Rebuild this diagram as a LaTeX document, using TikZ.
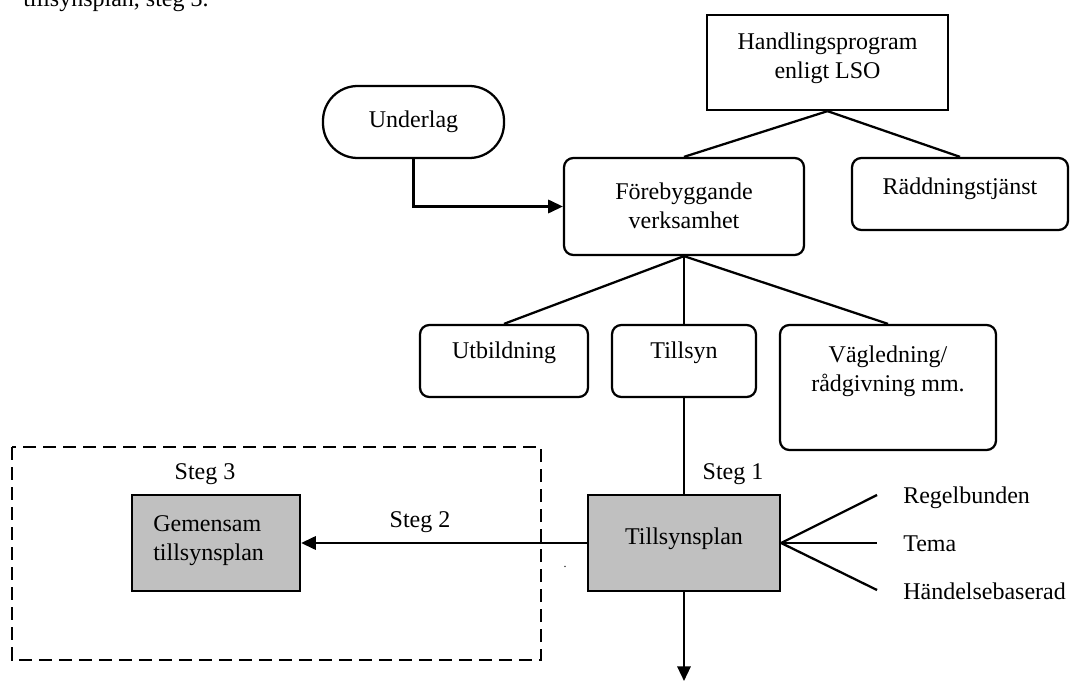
\documentclass[tikz,border=0pt]{standalone}
\usepackage{fontspec}
\setmainfont{Liberation Serif}
\usetikzlibrary{arrows.meta}
\begin{document}
\begin{tikzpicture}[x=0.75pt,y=-0.75pt,
  every node/.style={font=\fontsize{18}{21.75}\selectfont},
  ln/.style={line width=1.7pt},
  arr/.style={ln,-{Triangle[length=11pt,width=10pt]}},
  plainbox/.style={draw,line width=1.7pt,inner sep=0pt},
  roundbox/.style={plainbox,rounded corners=7pt},
  graybox/.style={plainbox,fill={rgb,255:red,192;green,192;blue,192}},
  txt/.style={align=center,inner sep=0pt}
]
\useasboundingbox (0,0) rectangle (1071,681);
\clip (0,0) rectangle (1071,681);

% clipped caption text at top
\node[anchor=base west,inner sep=0pt] (cap) at (23,7) {tillsynsplan, steg 3.};

% dashed region
\draw[ln,dash pattern=on 10pt off 5pt] (12,447) rectangle (541,660);

% boxes
\node[plainbox,minimum width=180.75pt,minimum height=71.25pt] (hp) at (827.5,62.5) {};
\node[txt] (hpt) at (827.5,58.5) {Handlingsprogram\\enligt LSO};

\node[plainbox,rounded corners=26pt,minimum width=135.75pt,minimum height=54pt] (und) at (413.5,122) {};
\node[txt] (undt) at (413.5,122) {Underlag};

\node[roundbox,minimum width=180pt,minimum height=72.75pt] (feb) at (684,206.5) {};
\node[txt] (febt) at (684,205.5) {Förebyggande\\verksamhet};

\node[roundbox,minimum width=162pt,minimum height=54pt] (rad) at (960,194) {};
\node[txt] (radt) at (960,189) {Räddningstjänst};

\node[roundbox,minimum width=126pt,minimum height=54pt] (utb) at (504,361) {};
\node[txt] (utbt) at (504,353) {Utbildning};

\node[roundbox,minimum width=108pt,minimum height=54pt] (tsyn) at (684,361) {};
\node[txt] (tsynt) at (684,353) {Tillsyn};

\node[roundbox,minimum width=162pt,minimum height=93.75pt] (vag) at (888,387.5) {};
\node[txt] (vagt) at (888,371) {Vägledning/\\rådgivning mm.};

\node[graybox,minimum width=144pt,minimum height=72pt] (tp) at (684,543) {};
\node[txt] (tpt) at (684,539) {Tillsynsplan};

\node[graybox,minimum width=126pt,minimum height=72pt] (gem) at (216,543) {};
\node[txt,align=left,anchor=west] (gemt) at (153,541) {Gemensam\\tillsynsplan};

% connectors
\draw[ln] (hp.south) -- (feb.north);
\draw[ln] (hp.south) -- (rad.north);
\draw[arr] (und.south) |- (feb.west);
\draw[ln] (feb.south) -- (utb.north);
\draw[ln] (feb.south) -- (tsyn.north);
\draw[ln] (feb.south) -- (vag.north);
\draw[ln] (tsyn.south) -- (tp.north);

\coordinate (r1) at (877,495);
\coordinate (r2) at (877,543);
\coordinate (r3) at (877,590);
\draw[ln] (tp.east) -- (r1);
\draw[ln] (tp.east) -- (r2);
\draw[ln] (tp.east) -- (r3);
\node[anchor=west,inner sep=0pt] (l1) at (903,498) {Regelbunden};
\node[anchor=west,inner sep=0pt] (l2) at (903,544) {Tema};
\node[anchor=west,inner sep=0pt] (l3) at (903,591) {Händelsebaserad};

\draw[arr] (tp.west) -- (gem.east);
\node[txt] (s2) at (420,522) {Steg 2};
\node[txt] (s1) at (733,474) {Steg 1};
\node[txt] (s3) at (205,474) {Steg 3};

\coordinate (bot) at (684,681);
\draw[arr] (tp.south) -- (bot);

\node[inner sep=0pt,font=\fontsize{9}{9}\selectfont] (dot) at (565,567) {.};
\end{tikzpicture}
\end{document}
